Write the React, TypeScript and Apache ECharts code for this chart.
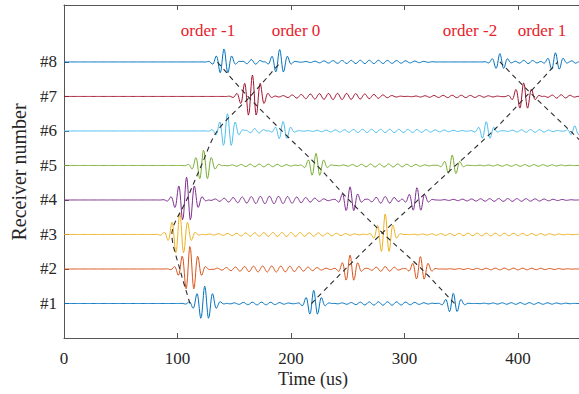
import React, { useEffect, useRef } from 'react';
import * as echarts from 'echarts';

// ---------- data ----------
const receivers = [1, 2, 3, 4, 5, 6, 7, 8];
const receiverLabels = ['#1', '#2', '#3', '#4', '#5', '#6', '#7', '#8'];
const xTickValues = [0, 100, 200, 300, 400];
const traceColors = ['#0072BD', '#D95319', '#EDB120', '#7E2F8E', '#77AC30', '#4DBEEE', '#A2142F', '#0072BD'];

// wave packets per receiver: [centre time (us), amplitude (receiver units), envelope width (us)]
const packetsR1 = [[124, 0.5, 6.5], [220, 0.38, 5.5], [343, 0.3, 5]];
const packetsR2 = [[111, 0.66, 6.5], [252, 0.4, 5.5], [314, 0.36, 5.5]];
const packetsR3 = [[102, 0.62, 6.5], [283, 0.6, 5.5]];
const packetsR4 = [[108, 0.66, 7], [252, 0.38, 5.5], [311, 0.36, 5.5]];
const packetsR5 = [[123, 0.45, 6], [222, 0.35, 5.5], [342, 0.3, 5]];
const packetsR6 = [[144, 0.5, 6], [193, 0.28, 5], [372, 0.27, 5], [450, 0.15, 4]];
const packetsR7 = [[166, 0.62, 7], [405, 0.4, 6]];
const packetsR8 = [[141, 0.38, 5.5], [190, 0.36, 5.5], [384, 0.24, 5], [433, 0.27, 5]];

// low-level ripple stretches per receiver: [start (us), end (us), amplitude]
const ripplesR1 = [[140, 205, 0.04], [235, 330, 0.05], [360, 454, 0.025]];
const ripplesR2 = [[125, 240, 0.09], [265, 300, 0.07], [330, 454, 0.025]];
const ripplesR3 = [[118, 270, 0.06], [298, 454, 0.04]];
const ripplesR4 = [[123, 240, 0.11], [265, 300, 0.1], [325, 454, 0.04]];
const ripplesR5 = [[138, 210, 0.04], [236, 330, 0.045], [356, 454, 0.025]];
const ripplesR6 = [[158, 180, 0.07], [205, 362, 0.05], [385, 440, 0.04]];
const ripplesR7 = [[183, 300, 0.09], [300, 390, 0.035], [420, 454, 0.05]];
const ripplesR8 = [[155, 178, 0.07], [203, 330, 0.05], [395, 422, 0.05], [445, 454, 0.04]];

// dashed arrival paths: times (us) at receivers 1..8
const order0Times = [111, 102, 95, 108, 121, 135, 164, 191];
const orderM1Times = [344, 315, 282, 251, 223, 192, 162, 135];
const order1Times = [218, 248, 279, 312, 345, 378, 407, 435];
const orderM2Receivers = [8, 7, 6, 5];
const orderM2Times = [384, 414, 446, 477];

const orderLabels = ['order -1', 'order 0', 'order -2', 'order 1'];

const allPackets = [packetsR1, packetsR2, packetsR3, packetsR4, packetsR5, packetsR6, packetsR7, packetsR8];
const allRipples = [ripplesR1, ripplesR2, ripplesR3, ripplesR4, ripplesR5, ripplesR6, ripplesR7, ripplesR8];

// ---------- layout / style ----------
const W = 579;
const H = 394;
const X_MAX = 453.7;
const STEP = 0.4;
const PERIOD = 7;
const RIPPLE_PERIOD = 8;
const SERIF = '"Liberation Serif", "DejaVu Serif", serif';

function buildTrace(r: number, packets: number[][], ripples: number[][]) {
  const pts: number[][] = [];
  for (let i = 0; i * STEP <= X_MAX + 1; i++) {
    const t = i * STEP;
    let y = r;
    for (const [c, a, s] of packets) {
      const d = t - c;
      if (Math.abs(d) < 5 * s) y += a * Math.exp((-d * d) / (2 * s * s)) * Math.cos((2 * Math.PI * d) / PERIOD);
    }
    for (const [s0, e0, a] of ripples) {
      if (t > s0 && t < e0) {
        y += a * Math.sin((Math.PI * (t - s0)) / (e0 - s0)) * Math.sin((2 * Math.PI * (t - s0)) / RIPPLE_PERIOD);
      }
    }
    pts.push([t, y]);
  }
  return pts;
}

export default function App() {
  const ref = useRef<HTMLDivElement>(null);
  useEffect(() => {
    if (!ref.current) return;
    const chart = echarts.init(ref.current, undefined, { renderer: 'svg' });

    const traceSeries = receivers.map((r, i) => ({
      type: 'line',
      name: receiverLabels[i],
      data: buildTrace(r, allPackets[i], allRipples[i]),
      showSymbol: false,
      symbol: 'none',
      lineStyle: { color: traceColors[i], width: 1 },
      z: 2,
    }));

    const dashStyle = { color: '#2a2a2a', width: 1.1, type: [5, 4] as any };
    const pathSeries = [
      receivers.map((r, i) => [order0Times[i], r]),
      receivers.map((r, i) => [orderM1Times[i], r]),
      receivers.map((r, i) => [order1Times[i], r]),
      orderM2Receivers.map((r, i) => [orderM2Times[i], r]),
    ].map((data, k) => ({
      type: 'line',
      name: 'path' + k,
      data,
      smooth: 0.3,
      showSymbol: false,
      symbol: 'none',
      lineStyle: dashStyle,
      z: 3,
    }));

    const gridLeft = 64;
    const gridTop = 5;
    const gridH = 333;
    const orderLabelX = [208, 296, 470, 542];

    chart.setOption({
      animation: false,
      grid: { left: gridLeft, top: gridTop, width: W - gridLeft, height: gridH, containLabel: false },
      xAxis: [
        {
          type: 'value',
          min: 0,
          max: X_MAX,
          interval: 100,
          position: 'bottom',
          axisLine: { lineStyle: { color: '#555', width: 1 } },
          axisTick: { inside: true, length: 5, lineStyle: { color: '#555' }, customValues: xTickValues },
          axisLabel: {
            customValues: xTickValues,
            margin: 12,
            color: '#262626',
            fontSize: 17,
            fontFamily: SERIF,
          },
          splitLine: { show: false },
        },
        {
          type: 'value',
          min: 0,
          max: X_MAX,
          interval: 100,
          position: 'top',
          axisLine: { show: true, onZero: false, lineStyle: { color: '#555', width: 1 } },
          axisTick: { inside: true, length: 5, lineStyle: { color: '#555' }, customValues: xTickValues },
          axisLabel: { show: false },
          splitLine: { show: false },
        },
      ],
      yAxis: {
        type: 'value',
        min: 0,
        max: 9.65,
        interval: 1,
        axisLine: { show: true, lineStyle: { color: '#555', width: 1 } },
        axisTick: { show: true, inside: true, length: 5, lineStyle: { color: '#555' }, customValues: receivers },
        axisLabel: {
          customValues: receivers,
          formatter: (v: number) => '#' + v,
          margin: 7,
          color: '#262626',
          fontSize: 17,
          fontFamily: SERIF,
        },
        splitLine: { show: false },
      },
      series: [...traceSeries, ...pathSeries],
      graphic: [
        {
          type: 'text',
          x: 19,
          y: 172,
          rotation: Math.PI / 2,
          style: {
            text: 'Receiver number',
            fill: '#262626',
            font: '20px ' + SERIF,
            align: 'center',
            verticalAlign: 'middle',
          },
        },
        {
          type: 'text',
          x: 313,
          y: 379,
          style: {
            text: 'Time (us)',
            fill: '#262626',
            font: '18px ' + SERIF,
            align: 'center',
            verticalAlign: 'middle',
          },
        },
        ...orderLabels.map((txt, i) => ({
          type: 'text',
          x: orderLabelX[i],
          y: 30,
          style: {
            text: txt,
            fill: '#e8202a',
            font: '17px ' + SERIF,
            align: 'center',
            verticalAlign: 'middle',
          },
        })),
      ],
    });
    return () => chart.dispose();
  }, []);
  return <div ref={ref} style={{ position: 'fixed', left: 0, top: 0, width: W, height: H, background: '#fff' }} />;
}
